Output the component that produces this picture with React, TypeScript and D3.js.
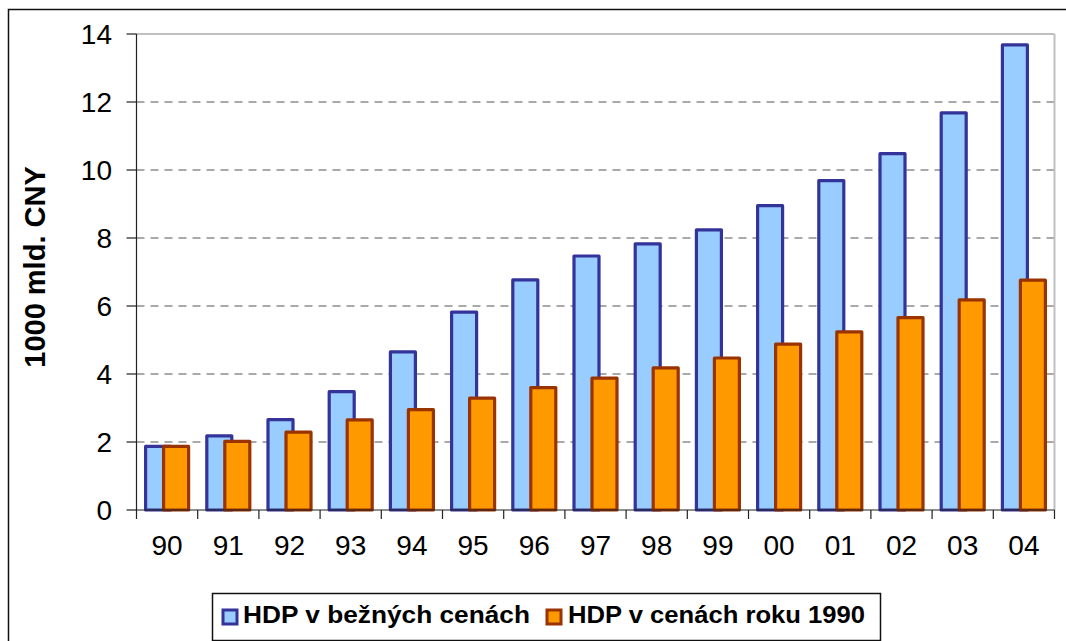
import React from "react";
import * as d3 from "d3";

const years = ["90", "91", "92", "93", "94", "95", "96", "97", "98", "99", "00", "01", "02", "03", "04"];
const currentPrices = [1.87, 2.18, 2.66, 3.48, 4.65, 5.82, 6.77, 7.47, 7.83, 8.24, 8.95, 9.69, 10.48, 11.68, 13.68];
const prices1990 = [1.87, 2.02, 2.29, 2.65, 2.95, 3.29, 3.6, 3.88, 4.18, 4.47, 4.88, 5.24, 5.66, 6.18, 6.76];
const yTicks = [0, 2, 4, 6, 8, 10, 12, 14];
const seriesNames = ["HDP v bežných cenách", "HDP v cenách roku 1990"];

const BLUE_FILL = "#99CCFF";
const BLUE_STROKE = "#333399";
const ORANGE_FILL = "#FF9900";
const ORANGE_STROKE = "#993300";
const FONT = "Arial, 'Liberation Sans', Helvetica, sans-serif";

export default function App() {
  const W = 1066;
  const H = 641;
  const plot = { left: 136.5, right: 1054.5, top: 34, bottom: 510 };

  const x = d3.scaleBand<string>().domain(years).range([plot.left, plot.right]).padding(0);
  const y = d3.scaleLinear().domain([0, 14]).range([plot.bottom, plot.top]);

  const bw = x.bandwidth();
  const barW = 25;
  const step = 18;
  const start = (bw - (step + barW)) / 2;

  return (
    <svg
      width={W}
      height={H}
      style={{ position: "absolute", left: 0, top: 0, background: "#fff" }}
      fontFamily={FONT}
    >
      {/* outer chart frame, cut by the window on the right and bottom */}
      <rect x={8.5} y={9.5} width={W} height={H} fill="#fff" stroke="#111" strokeWidth={1.5} />

      {/* grid lines */}
      {yTicks.filter(t => t > 0 && t < 14).map(t => (
        <line key={"g" + t} x1={plot.left} x2={plot.right} y1={y(t)} y2={y(t)}
          stroke="#555" strokeWidth={1.2} strokeDasharray="8,6" />
      ))}

      {/* plot area border (top/right) */}
      <line x1={plot.left} x2={plot.right} y1={plot.top} y2={plot.top} stroke="#c0c0c0" strokeWidth={2} />
      <line x1={plot.right} x2={plot.right} y1={plot.top} y2={plot.bottom} stroke="#c0c0c0" strokeWidth={2} />

      {/* bars */}
      {years.map((yr, i) => {
        const x0 = (x(yr) as number) + start;
        return (
          <g key={yr}>
            <rect x={x0} y={y(currentPrices[i])} width={barW} height={y(0) - y(currentPrices[i])}
              fill={BLUE_FILL} stroke={BLUE_STROKE} strokeWidth={3.2} strokeLinejoin="round" />
            <rect x={x0 + step} y={y(prices1990[i])} width={barW} height={y(0) - y(prices1990[i])}
              fill={ORANGE_FILL} stroke={ORANGE_STROKE} strokeWidth={3.2} strokeLinejoin="round" />
          </g>
        );
      })}

      {/* y axis */}
      <line x1={plot.left} x2={plot.left} y1={plot.top} y2={plot.bottom + 9} stroke="#222" strokeWidth={1.2} />
      {yTicks.map(t => (
        <g key={"y" + t}>
          <line x1={plot.left - 10} x2={plot.left} y1={y(t)} y2={y(t)} stroke="#222" strokeWidth={1.2} />
          <text x={112} y={y(t)} dy="0.36em" textAnchor="end" fontSize={28} fill="#000">{t}</text>
        </g>
      ))}

      {/* x axis */}
      <line x1={plot.left} x2={plot.right} y1={plot.bottom} y2={plot.bottom} stroke="#222" strokeWidth={1.2} />
      {years.map(yr => (
        <g key={"x" + yr}>
          <line x1={(x(yr) as number) + bw} x2={(x(yr) as number) + bw} y1={plot.bottom} y2={plot.bottom + 9}
            stroke="#222" strokeWidth={1.2} />
          <text x={(x(yr) as number) + bw / 2} y={555} textAnchor="middle" fontSize={28} fill="#000">{yr}</text>
        </g>
      ))}

      {/* y axis title */}
      <text transform={`translate(45,${(plot.top + plot.bottom) / 2 - 5}) rotate(-90)`} textAnchor="middle"
        fontSize={29} fontWeight="bold" fill="#000">1000 mld. CNY</text>

      {/* legend */}
      <rect x={212.5} y={593.5} width={668} height={47} fill="#fff" stroke="#111" strokeWidth={1.5} />
      <rect x={223} y={610} width={14} height={14} fill={BLUE_FILL} stroke={BLUE_STROKE} strokeWidth={3} />
      <text x={243} y={623} fontSize={24} fontWeight="bold" fill="#000" textLength={287} lengthAdjust="spacingAndGlyphs">
        {seriesNames[0]}
      </text>
      <rect x={547} y={610} width={14} height={14} fill={ORANGE_FILL} stroke={ORANGE_STROKE} strokeWidth={3} />
      <text x={568} y={623} fontSize={24} fontWeight="bold" fill="#000" textLength={297} lengthAdjust="spacingAndGlyphs">
        {seriesNames[1]}
      </text>
    </svg>
  );
}
